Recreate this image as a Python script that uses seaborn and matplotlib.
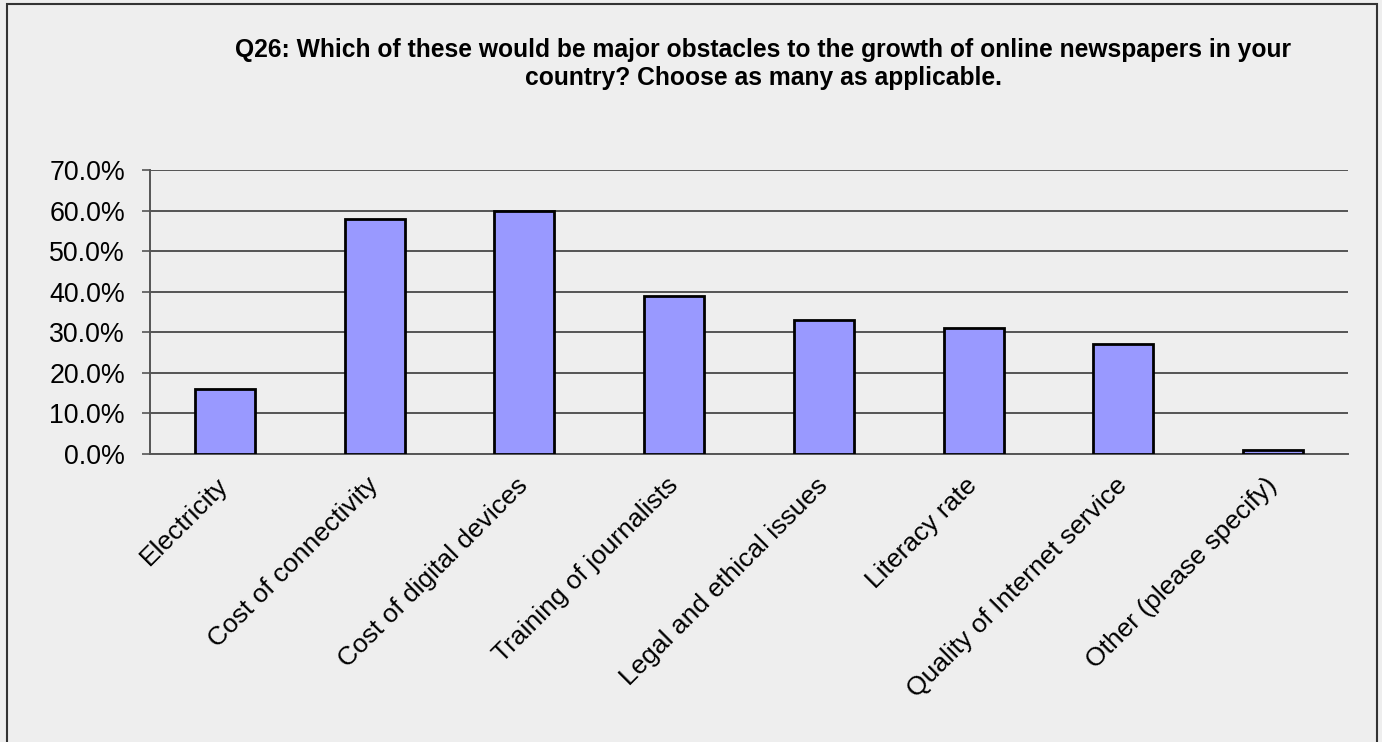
import matplotlib
matplotlib.use("Agg")
import matplotlib.pyplot as plt
from matplotlib.patches import Rectangle
from matplotlib.ticker import FuncFormatter, FixedLocator
import seaborn as sns
import pandas as pd
import numpy as np

categories = [
    "Electricity",
    "Cost of connectivity",
    "Cost of digital devices",
    "Training of journalists",
    "Legal and ethical issues",
    "Literacy rate",
    "Quality of Internet service",
    "Other (please specify)",
]
shares = [16.0, 58.0, 60.0, 39.0, 33.0, 31.0, 27.0, 1.0]
y_ticks = [0, 10, 20, 30, 40, 50, 60, 70]
title = ("Q26: Which of these would be major obstacles to the growth of online newspapers in your\n"
         "country? Choose as many as applicable.")

sns.set_theme(style="white")
plt.rcParams["font.family"] = ["Liberation Sans", "DejaVu Sans"]

bg = "#eeeeee"
fig = plt.figure(figsize=(13.82, 7.42), dpi=100, facecolor=bg)
ax = fig.add_axes([150 / 1382, 1 - 454 / 742, (1348 - 150) / 1382, (454 - 170) / 742])
ax.set_facecolor(bg)

df = pd.DataFrame({"category": categories, "share": shares})
sns.barplot(data=df, x="category", y="share", color="#9999ff", saturation=1,
            edgecolor="black", linewidth=2, width=0.4, ax=ax, zorder=3)

ax.set_ylim(0, 70)
ax.set_xlim(-0.5, len(categories) - 0.5)
ax.yaxis.set_major_locator(FixedLocator(y_ticks))
ax.yaxis.set_major_formatter(FuncFormatter(lambda v, p: f"{v:.1f}%"))
ax.grid(axis="y", color="#2a2a2a", linewidth=1.1, zorder=1)
ax.set_axisbelow(True)

ax.set_xlabel("")
ax.set_ylabel("")
ax.set_xticks(range(len(categories)))
ax.set_xticklabels(categories, rotation=45, ha="right", va="center",
                   rotation_mode="anchor", fontsize=19, color="black")
ax.tick_params(axis="x", which="major", length=0, pad=20)
ax.set_xticks(np.arange(-0.5, len(categories)), minor=True)
ax.tick_params(axis="x", which="minor", length=6, width=1.2, color="#555555", direction="out")
ax.tick_params(axis="y", length=6, width=1.2, color="#555555", direction="out",
               labelsize=19.3, labelcolor="black", pad=12, left=True)

for side in ["top", "right"]:
    ax.spines[side].set_visible(False)
for side in ["left", "bottom"]:
    ax.spines[side].set_color("#555555")
    ax.spines[side].set_linewidth(1.4)

fig.text(763 / 1382, 1 - 64 / 742, title, ha="center", va="center",
         fontsize=17.7, fontweight="bold", color="black", linespacing=1.2)

# outer chart frame
frame = Rectangle((7 / 1382, -0.05), (1377 - 7) / 1382, 1.05 - 4 / 742,
                  transform=fig.transFigure, fill=False, edgecolor="#333333",
                  linewidth=1.5, zorder=10)
fig.patches.append(frame)

fig.savefig("out.png", dpi=100, facecolor=bg)
